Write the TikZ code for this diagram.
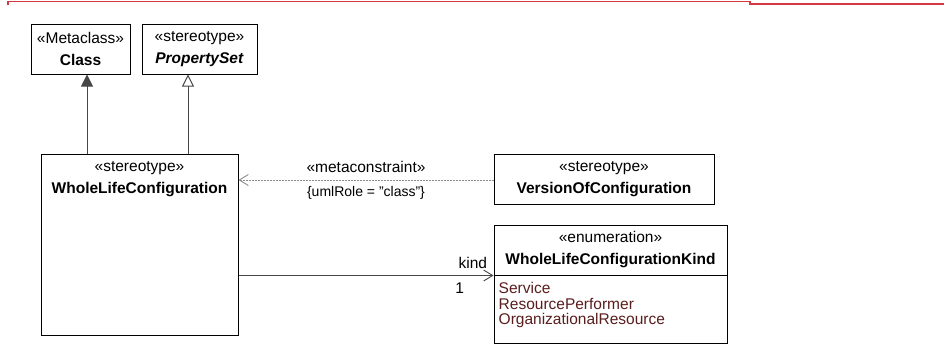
\documentclass[tikz,border=0pt]{standalone}
\usepackage{fontspec}
\setmainfont{Liberation Sans}
\usepackage{tikz}
\usetikzlibrary{positioning,arrows.meta,calc}
\definecolor{umlline}{RGB}{70,70,70}
\definecolor{umlliteral}{RGB}{90,30,30}
\definecolor{frameline}{RGB}{215,55,65}
\tikzset{
  umlbox/.style={rectangle,draw=black,line width=1pt,fill=white,align=center,inner sep=0pt,font=\fontsize{15.5}{22}\selectfont},
  umltext/.style={inner sep=0pt,font=\fontsize{15.5}{16}\selectfont},
  generalize/.style={draw=umlline,line width=1pt,-{Triangle[open,length=12pt,width=12pt]}},
  extension/.style={draw=umlline,line width=1pt,-{Triangle[length=12pt,width=12pt,fill=umlline]}},
  depend/.style={draw=black!45,line width=0.8pt,dashed,dash pattern=on 2pt off 1pt,-{Straight Barb[length=9pt,width=11pt,line width=0.9pt]}},
  assoc/.style={draw=umlline,line width=1pt,-{Straight Barb[length=9pt,width=11pt,line width=0.9pt]}}
}

\begin{document}
\begin{tikzpicture}[x=1pt,y=-1pt]
  \useasboundingbox (0,0) rectangle (944,346);
  % frame edge at the top
  \draw[frameline,line width=1.4pt] (8,4.5) -- (8,1.5) -- (750,1.5) -- (750,3.8) -- (944,3.8);

  \node[umlbox,minimum width=99,minimum height=50] (cls) at (80.5,49) {«Metaclass»\\\textbf{Class}};
  \node[umlbox,minimum width=115,minimum height=50] (pset) at (199.5,49) {«stereotype»\\\textbf{\itshape PropertySet}};
  \node[umlbox,minimum width=197,minimum height=181] (wlc) at (139.5,244.5) {};
  \node[umltext,below=8pt of wlc.north,align=center,font=\fontsize{15.5}{22}\selectfont] (wlcname) {«stereotype»\\\textbf{WholeLifeConfiguration}};
  \node[umlbox,minimum width=220,minimum height=50] (voc) at (604,179) {«stereotype»\\\textbf{VersionOfConfiguration}};
  \node[umlbox,minimum width=233,minimum height=50] (enumhead) at (610.5,250) {«enumeration»\\\textbf{WholeLifeConfigurationKind}};
  \node[umlbox,minimum width=233,minimum height=68] (enumbody) at (610.5,309) {};
  \node[umltext,anchor=north west,align=left,text=umlliteral,font=\fontsize{15.5}{15.4}\selectfont] (literals) at ($(enumbody.north west)+(5,8)$) {Service\\ResourcePerformer\\OrganizationalResource};

  \draw[extension] (wlc.north -| cls) ++(6.5,0) coordinate (clsfoot) -- (clsfoot |- cls.south);
  \draw[generalize] (wlc.north -| pset) ++(-11.5,0) coordinate (psetfoot) -- (psetfoot |- pset.south);

  \draw[depend] (voc.west) ++(0,1) coordinate (vocend) -- (vocend -| wlc.east)
    node[pos=0.5,above=7pt,umltext] (mclabel) {«metaconstraint»}
    node[pos=0.5,below=6pt,umltext,font=\fontsize{14}{16}\selectfont] (rolelabel) {\{umlRole = "class"\}};

  \draw[assoc] (wlc.east |- enumhead.south) -- (enumhead.south west)
    node[pos=1,above left=6pt and 6pt,umltext] (rolekind) {kind}
    node[pos=1,below left=7pt and 29pt,umltext] (multone) {1};
\end{tikzpicture}
\end{document}
